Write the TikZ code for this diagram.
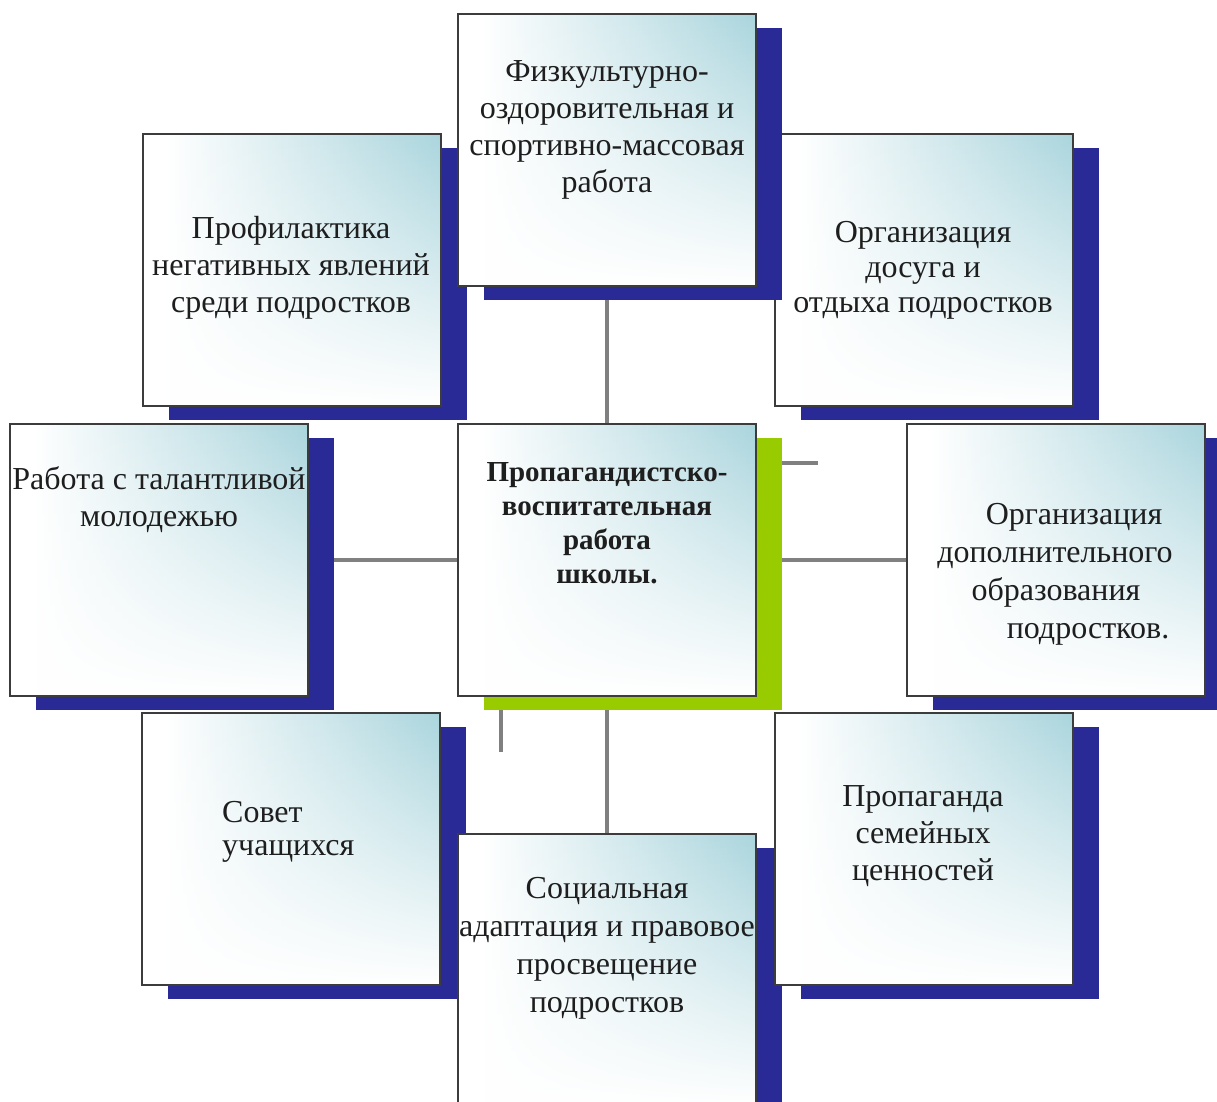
\documentclass[tikz,border=0pt]{standalone}
\usepackage{fontspec}
\setmainfont{Liberation Serif}
\usetikzlibrary{shadows,fadings}
\pgfdeclarelayer{background}
\pgfsetlayers{background,main}
\definecolor{shblue}{RGB}{42,42,150}
\definecolor{shgreen}{RGB}{153,204,0}
\definecolor{boxteal}{RGB}{170,213,221}
\definecolor{boxedge}{RGB}{60,60,60}
\definecolor{conngray}{RGB}{128,128,128}
\definecolor{txtcol}{RGB}{30,30,30}
\pgfdeclarehorizontalshading{boxh}{100bp}{color(0bp)=(white); color(29bp)=(white); color(75bp)=(boxteal); color(100bp)=(boxteal)}
\tikzfading[name=vfade, top color=transparent!100, middle color=transparent!60, bottom color=transparent!0]
\begin{document}
\begin{tikzpicture}[x=1pt,y=-1pt,
  box/.style={draw=boxedge, line width=2pt, minimum width=298pt, minimum height=272pt, inner sep=0pt,
     shade, shading=boxh,
     postaction={fill=white, path fading=vfade},
     postaction={draw=boxedge, line width=2pt}},
  blueshadow/.style={drop shadow={shadow xshift=26pt, shadow yshift=-14pt, fill=shblue, opacity=1, draw=none}},
  greenshadow/.style={drop shadow={shadow xshift=26pt, shadow yshift=-14pt, fill=shgreen, opacity=1, draw=none}},
  conn/.style={draw=conngray, line width=4pt},
  txt/.style={font=\fontsize{32}{37}\selectfont, align=center, anchor=base, inner sep=0pt, text=txtcol},
  btxt/.style={font=\fontsize{29}{33.7}\selectfont\bfseries, align=center, anchor=base, inner sep=0pt, text=txtcol},
]
\path[use as bounding box, clip] (0,0) rectangle (1217,1101);

% boxes, in stacking order
\node[box, blueshadow] (TL) at (291.5,269.5) {};
\node[box, blueshadow] (TR) at (923.5,269.5) {};
\node[box, blueshadow] (T)  at (606.5,150) {};
\node[box, blueshadow] (LM) at (158.5,559.5) {};
\node[box, greenshadow] (C) at (606.5,559.5) {};
\node[box, blueshadow] (RM) at (1055.5,559.5) {};
\node[box, blueshadow] (BL) at (291,849) {};
\node[box, blueshadow] (BC) at (606.5,969.5) {};
\node[box, blueshadow] (BR) at (923.5,849) {};

% texts (anchor = baseline of the last line)
\node[txt] (Tt) at (607,192) {Физкультурно-\\оздоровительная и\\спортивно-массовая\\работа};
\node[txt] (TLt) at (291,312) {Профилактика\\негативных явлений\\среди подростков};
\node[txt, font=\fontsize{32}{35}\selectfont] (TRt) at (923,312) {Организация\\досуга и\\отдыха подростков};
\node[txt] (LMt) at (159,526) {Работа с талантливой\\молодежью};
\node[btxt] (Ct) at (607,583) {Пропагандистско-\\воспитательная\\работа\\школы.};
\node[txt, font=\fontsize{32}{37.7}\selectfont] (RMt) at (1055,638) {\hspace*{38pt}Организация\\дополнительного\\\hspace*{2pt}образования\\\hspace*{66pt}подростков.};
\node[txt, align=left, anchor=base west, font=\fontsize{32}{33}\selectfont] (BLt) at (222,855) {Совет\\учащихся};
\node[txt] (BRt) at (923,880) {Пропаганда\\семейных\\ценностей};
\node[txt, font=\fontsize{32}{38}\selectfont] (BCt) at (607,1012) {Социальная\\адаптация и правовое\\просвещение\\подростков};

% connectors, behind everything
\coordinate (s1) at (818,463);
\coordinate (s2) at (501,752);
\begin{pgfonlayer}{background}
\fill[white] (0,0) rectangle (1217,1101);
\draw[conn] (T.south) -- (C.north);
\draw[conn] (LM.east) -- (C.west);
\draw[conn] (C.east) -- (RM.west);
\draw[conn] (C.south) -- (BC.north);
\draw[conn] (C.east |- s1) -- (s1);
\draw[conn] (C.south -| s2) -- (s2);
\end{pgfonlayer}
\end{tikzpicture}
\end{document}
